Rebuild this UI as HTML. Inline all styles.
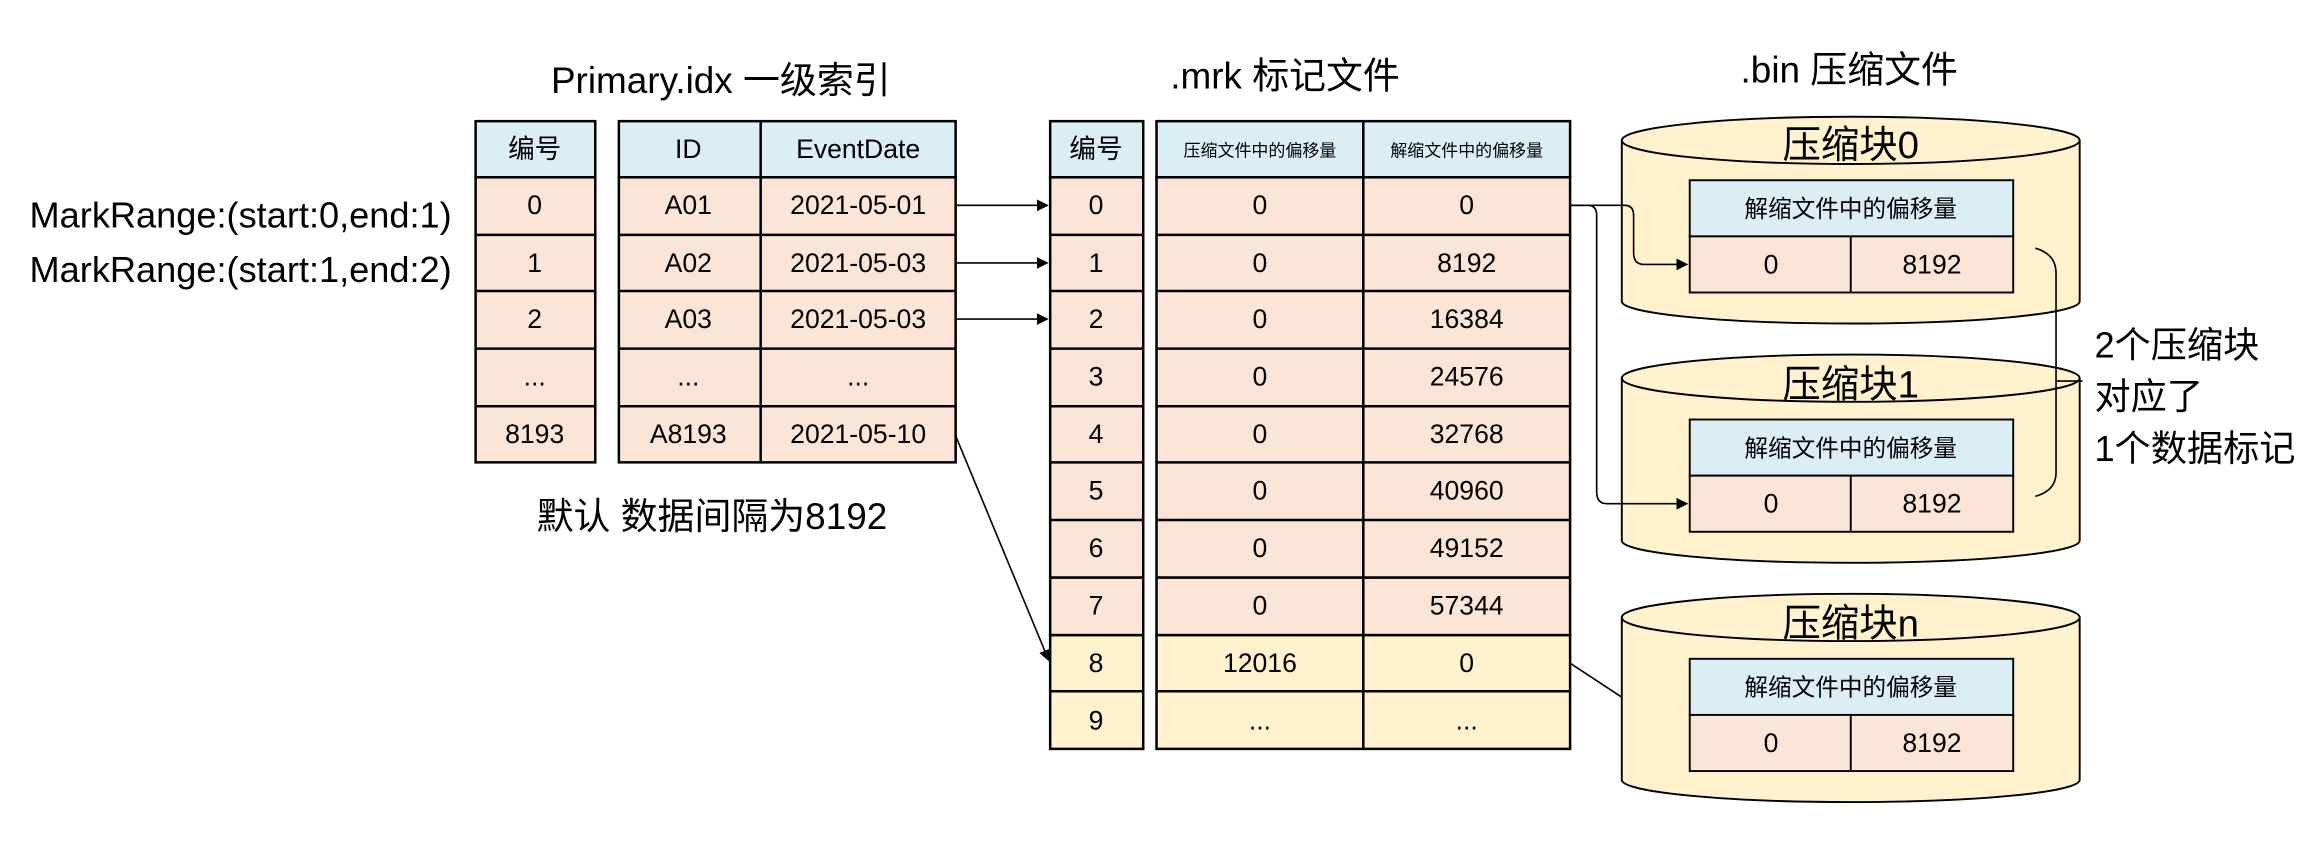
<!DOCTYPE html>
<html><head><meta charset="utf-8"><style>
html,body{margin:0;padding:0;background:#fff}
svg{display:block}
text{font-family:"Liberation Sans","Noto Sans CJK SC",sans-serif;fill:#000}
</style></head><body>
<svg width="2316" height="842" viewBox="0 0 1568 570" xmlns="http://www.w3.org/2000/svg">
<defs><marker id="a" markerWidth="8" markerHeight="8" refX="7" refY="4" orient="auto" markerUnits="userSpaceOnUse"><path d="M0,0 L8,4 L0,8 z" fill="#000"/></marker></defs>
<g stroke="#000" stroke-width="1.7">
<rect x="322" y="82" width="81" height="38" fill="#dbeef4"/>
<rect x="322" y="120" width="81" height="193" fill="#fbe5d6"/>
<rect x="419" y="82" width="228" height="38" fill="#dbeef4"/>
<rect x="419" y="120" width="228" height="193" fill="#fbe5d6"/>
<path d="M322,159H403M322,197H403M322,236H403M322,275H403M419,159H647M419,197H647M419,236H647M419,275H647M515,82V313" fill="none"/>
<rect x="711" y="82" width="63" height="38" fill="#dbeef4"/>
<rect x="711" y="120" width="63" height="310" fill="#fbe5d6"/>
<rect x="711" y="430" width="63" height="77" fill="#fff2cc"/>
<rect x="783" y="82" width="280" height="38" fill="#dbeef4"/>
<rect x="783" y="120" width="280" height="310" fill="#fbe5d6"/>
<rect x="783" y="430" width="280" height="77" fill="#fff2cc"/>
<path d="M711,159H774M711,197H774M711,236H774M711,275H774M711,313H774M711,352H774M711,391H774M711,468H774M783,159H1063M783,197H1063M783,236H1063M783,275H1063M783,313H1063M783,352H1063M783,391H1063M783,468H1063M923,82V507" fill="none"/>
</g>
<g stroke="#000" stroke-width="1.3">
<path d="M1098,95 V204 A155,15 0 0 0 1408,204 V95" fill="#fff2cc"/>
<ellipse cx="1253" cy="95" rx="155" ry="16" fill="#fff2cc"/>
<path d="M1098,256 V366 A155,15 0 0 0 1408,366 V256" fill="#fff2cc"/>
<ellipse cx="1253" cy="256" rx="155" ry="16" fill="#fff2cc"/>
<path d="M1098,418 V528 A155,15 0 0 0 1408,528 V418" fill="#fff2cc"/>
<ellipse cx="1253" cy="418" rx="155" ry="16" fill="#fff2cc"/>
<rect x="1144" y="122" width="219" height="38" fill="#dbeef4"/><rect x="1144" y="160" width="219" height="38" fill="#fbe5d6"/><path d="M1253,160V198"/>
<rect x="1144" y="284" width="219" height="38" fill="#dbeef4"/><rect x="1144" y="322" width="219" height="38" fill="#fbe5d6"/><path d="M1253,322V360"/>
<rect x="1144" y="446" width="219" height="38" fill="#dbeef4"/><rect x="1144" y="484" width="219" height="38" fill="#fbe5d6"/><path d="M1253,484V522"/>
</g>
<g stroke="#000" stroke-width="1.1" fill="none">
<path d="M647,139H709" marker-end="url(#a)"/>
<path d="M647,178H709" marker-end="url(#a)"/>
<path d="M647,216H709" marker-end="url(#a)"/>
<path d="M647,295L710,447" marker-end="url(#a)"/>
<path d="M1063,139H1100Q1106,139 1106,146V171Q1106,179 1113,179H1142" marker-end="url(#a)"/>
<path d="M1063,139H1075Q1081,139 1081,146V333Q1081,341 1088,341H1142" marker-end="url(#a)"/>
<path d="M1063,449L1098,472"/>
<path d="M1378,168Q1392,172 1392,185V320Q1392,332 1378,336"/>
<path d="M1392,258H1410"/>
</g>
<g font-size="18" text-anchor="middle">
<text x="362" y="107">编号</text>
<text x="466" y="107">ID</text><text x="581" y="107">EventDate</text>
<text x="362" y="145">0</text><text x="466" y="145">A01</text><text x="581" y="145">2021-05-01</text>
<text x="362" y="184">1</text><text x="466" y="184">A02</text><text x="581" y="184">2021-05-03</text>
<text x="362" y="222">2</text><text x="466" y="222">A03</text><text x="581" y="222">2021-05-03</text>
<text x="362" y="261">...</text><text x="466" y="261">...</text><text x="581" y="261">...</text>
<text x="362" y="300">8193</text><text x="466" y="300">A8193</text><text x="581" y="300">2021-05-10</text>
<text x="742" y="107">编号</text>
<text x="853" y="106" font-size="11.5">压缩文件中的偏移量</text>
<text x="993" y="106" font-size="11.5">解缩文件中的偏移量</text>
<text x="742" y="145">0</text><text x="853" y="145">0</text><text x="993" y="145">0</text>
<text x="742" y="184">1</text><text x="853" y="184">0</text><text x="993" y="184">8192</text>
<text x="742" y="222">2</text><text x="853" y="222">0</text><text x="993" y="222">16384</text>
<text x="742" y="261">3</text><text x="853" y="261">0</text><text x="993" y="261">24576</text>
<text x="742" y="300">4</text><text x="853" y="300">0</text><text x="993" y="300">32768</text>
<text x="742" y="338">5</text><text x="853" y="338">0</text><text x="993" y="338">40960</text>
<text x="742" y="377">6</text><text x="853" y="377">0</text><text x="993" y="377">49152</text>
<text x="742" y="416">7</text><text x="853" y="416">0</text><text x="993" y="416">57344</text>
<text x="742" y="455">8</text><text x="853" y="455">12016</text><text x="993" y="455">0</text>
<text x="742" y="494">9</text><text x="853" y="494">...</text><text x="993" y="494">...</text>
<text x="1253" y="147" font-size="16">解缩文件中的偏移量</text>
<text x="1199" y="185">0</text><text x="1308" y="185">8192</text>
<text x="1253" y="309" font-size="16">解缩文件中的偏移量</text>
<text x="1199" y="347">0</text><text x="1308" y="347">8192</text>
<text x="1253" y="471" font-size="16">解缩文件中的偏移量</text>
<text x="1199" y="509">0</text><text x="1308" y="509">8192</text>
<text x="1253" y="107" font-size="26">压缩块0</text>
<text x="1253" y="269" font-size="26">压缩块1</text>
<text x="1253" y="431" font-size="26">压缩块n</text>
<text x="488" y="63" font-size="25">Primary.idx 一级索引</text>
<text x="870" y="60" font-size="25">.mrk 标记文件</text>
<text x="1252" y="56" font-size="25">.bin 压缩文件</text>
<text x="482" y="358" font-size="25">默认 数据间隔为8192</text>
</g>
<g font-size="24.5">
<text x="20" y="154">MarkRange:(start:0,end:1)</text>
<text x="20" y="191">MarkRange:(start:1,end:2)</text>
<text x="1418" y="242">2个压缩块</text>
<text x="1418" y="277">对应了</text>
<text x="1418" y="312">1个数据标记</text>
</g>
</svg>
</body></html>
